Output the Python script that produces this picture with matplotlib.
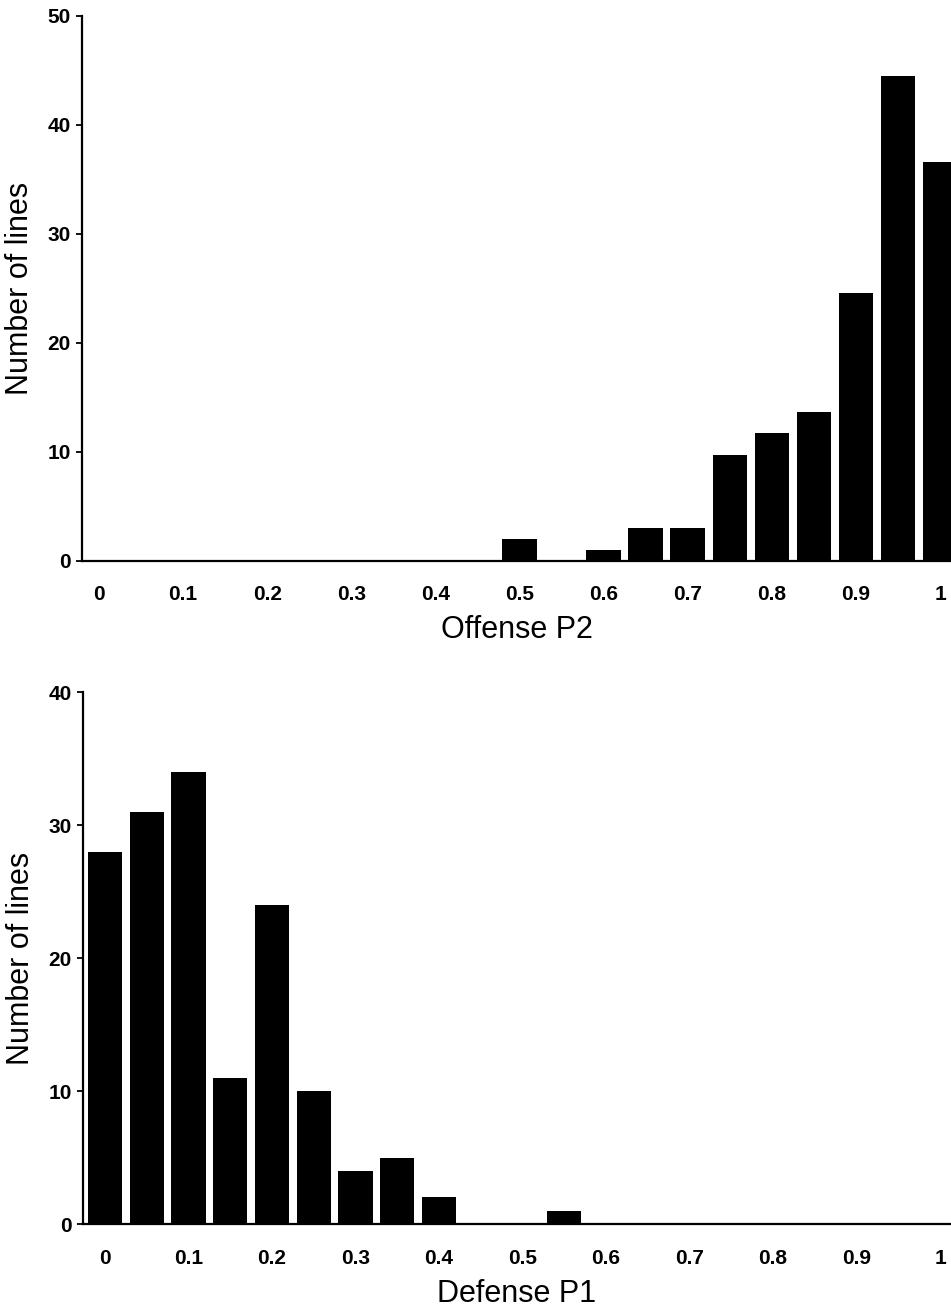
import numpy as np
import matplotlib
matplotlib.use("Agg")
import matplotlib.pyplot as plt

plt.rcParams['font.family'] = ['Liberation Sans', 'DejaVu Sans']

# bin centres shared by both histograms
bins = [0.0, 0.05, 0.1, 0.15, 0.2, 0.25, 0.3, 0.35, 0.4, 0.45, 0.5,
        0.55, 0.6, 0.65, 0.7, 0.75, 0.8, 0.85, 0.9, 0.95, 1.0]

# number of lines per bin
offense_p2 = [0, 0, 0, 0, 0, 0, 0, 0, 0, 0, 2,
              0, 1, 3, 3, 9.7, 11.7, 13.7, 24.6, 44.5, 36.6]
defense_p1 = [28, 31, 34, 11, 24, 10, 4, 5, 2, 0, 0,
              1, 0, 0, 0, 0, 0, 0, 0, 0, 0]

xticks = [0, 0.1, 0.2, 0.3, 0.4, 0.5, 0.6, 0.7, 0.8, 0.9, 1.0]
xticklabels = ['0', '0.1', '0.2', '0.3', '0.4', '0.5', '0.6', '0.7', '0.8', '0.9', '1']

fig = plt.figure(figsize=(9.51, 13.10), dpi=100)

# panel positions in figure fraction
ax1 = fig.add_axes([0.0862, 0.5718, 0.9138, 0.416])
ax2 = fig.add_axes([0.0873, 0.0656, 0.9127, 0.4061])


def style(ax, ymax, xlabel, xlim_left, xpad):
    ax.set_xlim(xlim_left, 1.013)
    ax.set_ylim(0, ymax)
    ax.set_yticks(np.arange(0, ymax + 1, 10))
    ax.set_xticks(xticks)
    ax.set_xticklabels(xticklabels)
    for s in ['top', 'right']:
        ax.spines[s].set_visible(False)
    ax.spines['left'].set_linewidth(1.6)
    ax.spines['bottom'].set_linewidth(1.6)
    ax.tick_params(axis='y', direction='out', length=4, width=1.3, pad=4,
                   labelsize=15)
    ax.tick_params(axis='x', length=0, pad=xpad, labelsize=15)
    for lab in ax.get_xticklabels() + ax.get_yticklabels():
        lab.set_fontweight('bold')
    ax.set_xlabel(xlabel, fontsize=22, labelpad=8)
    ax.set_ylabel('Number of lines', fontsize=22)
    ax.yaxis.set_label_coords(-0.054, 0.5)


ax1.bar(bins, offense_p2, width=0.041, color='black', zorder=3)
style(ax1, 50, 'Offense P2', -0.0202, 17)

ax2.bar(bins, defense_p1, width=0.041, color='black', zorder=3)
style(ax2, 40, 'Defense P1', -0.0263, 18)

fig.savefig('out.png', dpi=100)
